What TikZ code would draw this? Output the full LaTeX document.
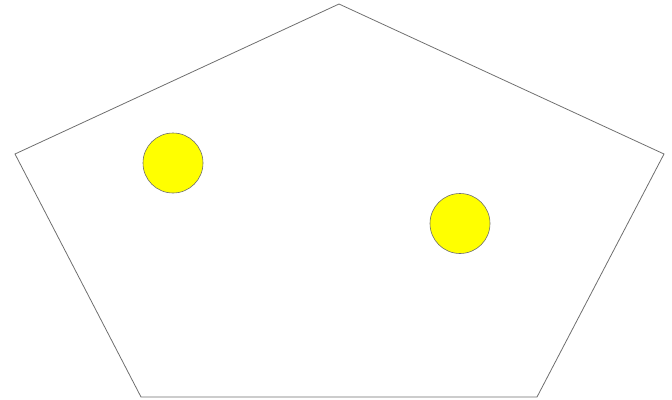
\documentclass[tikz,border=0pt]{standalone}
\definecolor{pureyellow}{RGB}{255,255,0}
\definecolor{edgegray}{RGB}{110,110,110}
\begin{document}
\begin{tikzpicture}[x=1pt,y=-1pt,
  edge/.style={draw=edgegray,line width=0.8pt},
  ball/.style={circle,draw=edgegray,fill=pureyellow,line width=0.6pt,minimum size=60pt,inner sep=0pt}]
\useasboundingbox (0,0) rectangle (672,399);
\coordinate (p1) at (339,4);
\coordinate (p2) at (664,154);
\coordinate (p3) at (537,397);
\coordinate (p4) at (141,397);
\coordinate (p5) at (15,154);
\draw[edge] (p1) -- (p2) -- (p3) -- (p4) -- (p5) -- cycle;
\node[ball] (b1) at (173,163) {};
\node[ball] (b2) at (460,223.5) {};
\end{tikzpicture}
\end{document}
